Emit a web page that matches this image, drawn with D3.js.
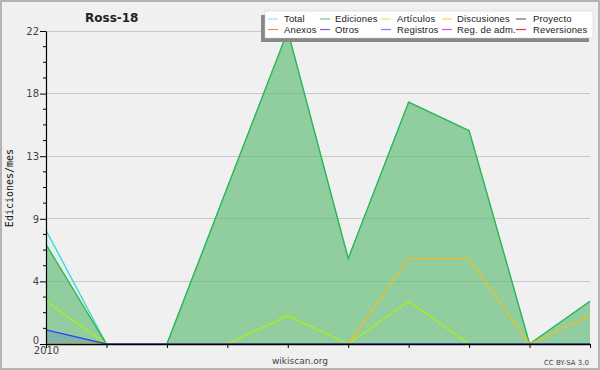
<!DOCTYPE html>
<html><head><meta charset="utf-8">
<script src="https://cdn.jsdelivr.net/npm/d3@7"></script>
<style>body{margin:0;background:#fff;}svg{display:block;}</style>
</head><body>
<svg id="c" width="600" height="370"></svg>
<script>
const months = ["2010-01","2010-02","2010-03","2010-04","2010-05","2010-06","2010-07","2010-08","2010-09","2010-10"];
const xTickLabels = ["2010","","","","","","","","",""];
const total = [8,0,0,11,22,6,17,15,0,3];
const ediciones = [7,0,0,11,22,6,17,15,0,3];
const articulos = [3,0,0,0,2,0,3,0,0,0];
const discusiones = [0,0,0,0,0,0,6,6,0,2];
const registros = [1,0,0,0,0,0,0,0,0,0];
const yTicks = [0,4.4,8.8,13.2,17.6,22];
const yMinorStep = 1.1;
const legendNames = [["Total","Ediciones","Artículos","Discusiones","Proyecto"],["Anexos","Otros","Registros","Reg. de adm.","Reversiones"]];
const legendColors = [["#a6e0dc","#7acb7e","#cdee6a","#fcd25c","#6a6a6a"],["#f48a4e","#9650e0","#7a7cf4","#d84ae0","#ea3838"]];

const svg = d3.select("#c");
const W=600,H=370;
svg.append("rect").attr("x",0).attr("y",0).attr("width",W).attr("height",H).attr("fill","#f0f0f1");
svg.append("rect").attr("x",1).attr("y",1).attr("width",W-2).attr("height",H-2).attr("fill","none").attr("stroke","#b4b4b4").attr("stroke-width",2);

const x = d3.scalePoint().domain(months).range([46,590]);
const y = d3.scaleLinear().domain([0,22]).range([344,31]);

// grid
svg.append("g").selectAll("line").data(yTicks.slice(1)).join("line")
  .attr("x1",46).attr("x2",590).attr("y1",d=>y(d)).attr("y2",d=>y(d))
  .attr("stroke","#c8c8c8").attr("stroke-width",1).attr("shape-rendering","crispEdges");

const area = arr => d3.area().x((d,i)=>x(months[i])).y0(y(0)).y1(d=>y(d))(arr);
const line = arr => d3.line().x((d,i)=>x(months[i])).y(d=>y(d))(arr);

svg.append("path").attr("d",area(total)).attr("fill","#bff0ec").attr("fill-opacity",0.35);
svg.append("path").attr("d",area(ediciones)).attr("fill","#3aaa48").attr("fill-opacity",0.48);
svg.append("path").attr("d",area(registros)).attr("fill","#3344ee").attr("fill-opacity",0.18);

const lines = [[total,"#3ad6d8"],[ediciones,"#37b446"],[articulos,"#b0ee10"],[discusiones,"#eec020"],[registros,"#3344ee"]];
lines.forEach(([arr,c])=>{
  svg.append("path").attr("d",line(arr)).attr("fill","none").attr("stroke",c).attr("stroke-width",1.3);
});

// axes
const yAxis = d3.axisLeft(y).tickValues(yTicks).tickFormat(d=>d3.format(".0f")(Math.round(d))).tickSize(6).tickSizeOuter(0);
const gy = svg.append("g").attr("transform","translate(46,0)").call(yAxis);
gy.select(".domain").attr("stroke","#000").attr("stroke-width",1.2);
gy.selectAll(".tick line").attr("stroke","#000");
gy.selectAll(".tick text").attr("font-family","DejaVu Sans, sans-serif").attr("font-size",10).attr("fill","#444").attr("x",-7).attr("dy","0.32em");
gy.selectAll(".tick text").filter(d=>d===0).attr("dy","-0.05em");
const minor = d3.range(0,22+0.001,yMinorStep).filter(v=>!yTicks.some(t=>Math.abs(t-v)<0.01));
svg.append("g").selectAll("line").data(minor).join("line")
  .attr("x1",43).attr("x2",46).attr("y1",d=>y(d)).attr("y2",d=>y(d)).attr("stroke","#000");

const xAxis = d3.axisBottom(x).tickFormat((d,i)=>xTickLabels[i]).tickSize(4).tickSizeOuter(0);
const gx = svg.append("g").attr("transform","translate(0,344)").call(xAxis);
gx.select(".domain").attr("stroke","#000").attr("stroke-width",1.5);
gx.selectAll(".tick line").attr("stroke","#000");
gx.selectAll(".tick text").attr("font-family","DejaVu Sans, sans-serif").attr("font-size",10).attr("fill","#444").attr("y",3).attr("dy","0.71em");

// title
svg.append("text").attr("x",85).attr("y",22).text("Ross-18")
  .attr("font-family","DejaVu Sans, sans-serif").attr("font-weight","bold").attr("font-size",12).attr("fill","#222");
// y label
svg.append("text").attr("transform","translate(13,188) rotate(-90)").attr("text-anchor","middle").text("Ediciones/mes")
  .attr("font-family","DejaVu Sans Mono, monospace").attr("font-size",10).attr("fill","#111");
// footer
svg.append("text").attr("x",300).attr("y",364).attr("text-anchor","middle").text("wikiscan.org")
  .attr("font-family","DejaVu Sans, sans-serif").attr("font-size",9).attr("fill","#444");
svg.append("text").attr("x",589).attr("y",365).attr("text-anchor","end").text("CC BY-SA 3.0")
  .attr("font-family","DejaVu Sans, sans-serif").attr("font-size",7).attr("fill","#444");

// legend
svg.append("rect").attr("x",261).attr("y",15).attr("width",328).attr("height",27).attr("fill","#888");
svg.append("rect").attr("x",265).attr("y",11).attr("width",328).attr("height",27).attr("fill","#fff").attr("stroke","#ccc").attr("stroke-width",0.5);
const colX = [[268,284],[320,335],[381,397],[442,457],[516,533]];
const rowY = [19,29.5];
legendNames.forEach((row,r)=>row.forEach((name,c)=>{
  svg.append("line").attr("x1",colX[c][0]).attr("x2",colX[c][0]+10).attr("y1",rowY[r]).attr("y2",rowY[r]).attr("stroke",legendColors[r][c]).attr("stroke-width",1.2);
  svg.append("text").attr("x",colX[c][1]).attr("y",rowY[r]).attr("dy","0.33em").text(name)
    .attr("font-family","Liberation Sans, sans-serif").attr("font-size",9.5).attr("letter-spacing","0.15px").attr("fill","#222");
}));
</script>
</body></html>
